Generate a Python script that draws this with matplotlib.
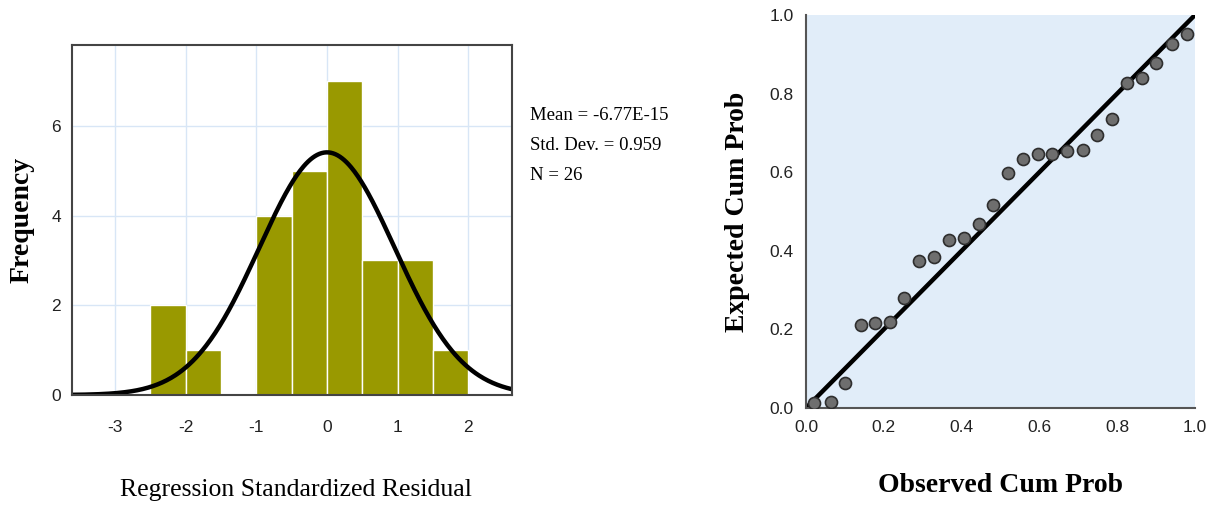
import numpy as np
import matplotlib.pyplot as plt

plt.rcParams['axes.unicode_minus'] = False

# histogram of residuals (bin edges and counts)
bin_edges = [-2.5, -2.0, -1.5, -1.0, -0.5, 0.0, 0.5, 1.0, 1.5, 2.0]
counts = [2, 1, 0, 4, 5, 7, 3, 3, 1]
res_mean = -6.77e-15
res_sd = 0.959
n_obs = 26

# P-P plot points
observed_cum = [0.021, 0.063, 0.100, 0.141, 0.177, 0.215, 0.252, 0.290, 0.330,
                0.367, 0.406, 0.444, 0.482, 0.520, 0.558, 0.597, 0.633, 0.672,
                0.712, 0.749, 0.787, 0.825, 0.863, 0.901, 0.940, 0.979]
expected_cum = [0.013, 0.015, 0.063, 0.212, 0.215, 0.218, 0.280, 0.374, 0.383,
                0.428, 0.433, 0.469, 0.516, 0.597, 0.634, 0.645, 0.647, 0.653,
                0.657, 0.695, 0.736, 0.826, 0.840, 0.877, 0.925, 0.952]

serif = 'Liberation Serif'
sans = 'Liberation Sans'

fig = plt.figure(figsize=(12.17, 5.08), dpi=100)

# ---- histogram
ax = fig.add_axes([0.0592, 0.2224, 0.3615, 0.689])
ax.set_axisbelow(True)
ax.grid(True, color='#d8e6f6', lw=1)
widths = np.diff(bin_edges)
ax.bar(bin_edges[:-1], counts, width=widths, align='edge', color='#999900',
       edgecolor='white', linewidth=1)
xs = np.linspace(-3.7, 2.7, 400)
pdf = n_obs * 0.5 / (res_sd * np.sqrt(2 * np.pi)) * np.exp(-0.5 * ((xs - res_mean) / res_sd) ** 2)
ax.plot(xs, pdf, color='black', lw=3.2)
ax.set_xlim(-3.61, 2.62)
ax.set_ylim(0, 7.8)
ax.set_xticks([-3, -2, -1, 0, 1, 2])
ax.set_yticks([0, 2, 4, 6])
ax.tick_params(axis='x', length=0, labelsize=12.5, pad=18)
ax.tick_params(axis='y', length=0, labelsize=12.5, pad=8)
for lab in ax.get_xticklabels() + ax.get_yticklabels():
    lab.set_family(sans)
    lab.set_color('#222222')
for s in ax.spines.values():
    s.set_color('#444444')
    s.set_linewidth(1.5)
ax.set_xlabel('Regression Standardized Residual', family=serif, fontsize=18.5)
ax.xaxis.set_label_coords(0.51, -0.24)
ax.set_ylabel('Frequency', family=serif, fontsize=20, fontweight='bold')
ax.yaxis.set_label_coords(-0.085, 0.5)

fig.text(530 / 1217, 1 - 146 / 508,
         'Mean = -6.77E-15\nStd. Dev. = 0.959\nN = 26',
         family=serif, fontsize=13.5, va='center', ha='left', linespacing=2.0)

# ---- P-P plot
ax2 = fig.add_axes([0.6623, 0.1969, 0.3196, 0.7736])
ax2.set_facecolor('#e1edf9')
ax2.plot([0, 1], [0, 1], color='black', lw=3.2, zorder=2)
ax2.scatter(observed_cum, expected_cum, s=75, color='#6e6e6e',
            edgecolor='#2e2e2e', linewidth=1.2, zorder=3)
ax2.set_xlim(0, 1)
ax2.set_ylim(0, 1)
ticks = [0.0, 0.2, 0.4, 0.6, 0.8, 1.0]
ax2.set_xticks(ticks)
ax2.set_yticks(ticks)
ax2.set_xticklabels(['%.1f' % t for t in ticks])
ax2.set_yticklabels(['%.1f' % t for t in ticks])
ax2.tick_params(length=0, labelsize=12.5, pad=9)
for lab in ax2.get_xticklabels() + ax2.get_yticklabels():
    lab.set_family(sans)
    lab.set_color('#222222')
ax2.spines['top'].set_visible(False)
ax2.spines['right'].set_visible(False)
for k in ['left', 'bottom']:
    ax2.spines[k].set_color('#555555')
    ax2.spines[k].set_linewidth(1.5)
ax2.set_xlabel('Observed Cum Prob', family=serif, fontsize=20, fontweight='bold')
ax2.xaxis.set_label_coords(0.5, -0.165)
ax2.set_ylabel('Expected Cum Prob', family=serif, fontsize=20, fontweight='bold')
ax2.yaxis.set_label_coords(-0.145, 0.5)

fig.savefig('out.png', dpi=100)
